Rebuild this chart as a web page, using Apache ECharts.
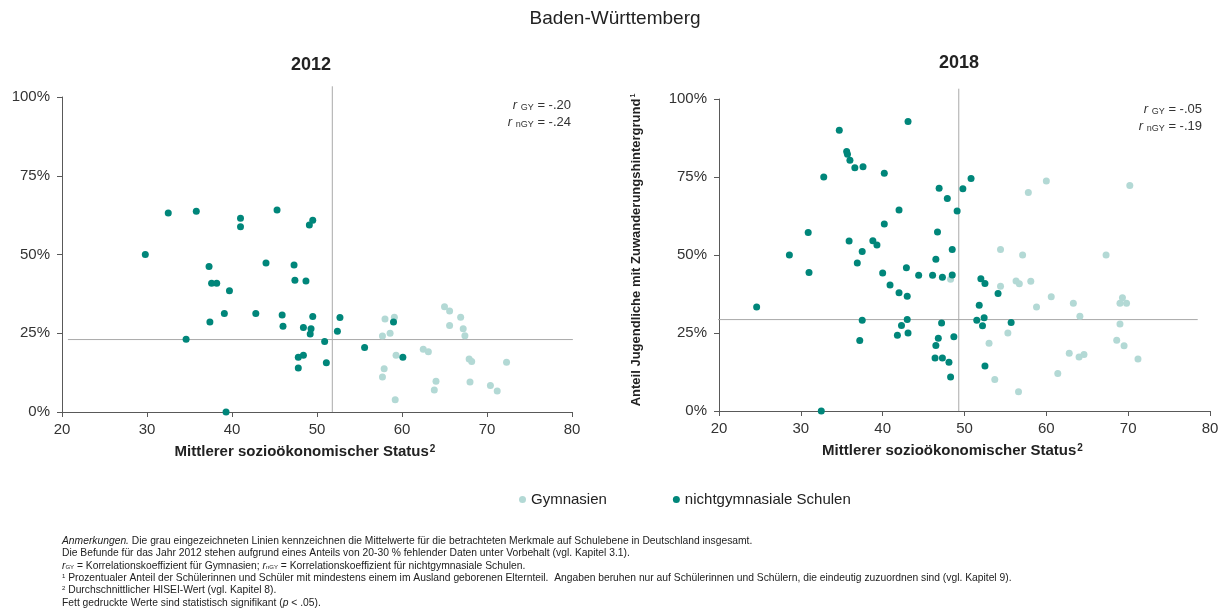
<!DOCTYPE html>
<html>
<head>
<meta charset="utf-8">
<title>Baden-Württemberg</title>
<script src="https://cdn.jsdelivr.net/npm/echarts@6/dist/echarts.min.js"></script>
<style>
  html, body { margin: 0; padding: 0; background: #fff; }
  #chart { width: 1230px; height: 610px; }
</style>
</head>
<body>
<div id="chart"></div>
<script>
// Werte je Schule: [Mittlerer sozioökonomischer Status, Anteil Zuwanderungshintergrund in %]
var gym2012 = [
  [65.0, 33.4], [65.6, 32.1], [66.9, 30.1], [58.0, 29.5], [59.1, 30.1], [65.6, 27.5],
  [67.2, 26.4], [58.6, 25.0], [67.4, 24.2], [57.7, 24.1], [59.3, 18.0], [62.5, 19.9],
  [63.1, 19.1], [67.9, 16.8], [68.2, 16.0], [72.3, 15.8], [57.9, 13.7], [57.7, 11.1],
  [64.0, 9.8], [63.8, 7.0], [68.0, 9.5], [70.4, 8.4], [71.2, 6.7], [59.2, 3.9]
];
var ngy2012 = [
  [29.8, 50.0], [32.5, 63.2], [35.8, 63.7], [41.0, 58.8], [41.0, 61.5], [45.3, 64.1],
  [37.3, 46.2], [37.6, 40.9], [38.2, 40.9], [39.7, 38.5], [44.0, 47.3], [47.3, 46.7],
  [47.4, 41.8], [39.1, 31.3], [42.8, 31.3], [45.9, 30.8], [46.0, 27.2], [37.4, 28.6],
  [34.6, 23.1], [39.3, 0.0], [47.8, 17.4], [47.8, 14.0], [49.1, 59.4], [49.5, 60.9],
  [48.7, 41.6], [49.5, 30.3], [52.7, 30.0], [48.4, 26.8], [49.3, 26.4], [49.2, 24.8],
  [52.4, 25.6], [50.9, 22.4], [55.6, 20.5], [48.4, 18.0], [51.1, 15.6], [59.0, 28.6],
  [60.1, 17.4]
];
var gym2018 = [
  [48.3, 42.2], [60.0, 73.7], [70.2, 72.3], [57.8, 70.0], [54.4, 51.8], [57.1, 50.0],
  [67.3, 50.0], [54.4, 40.0], [56.3, 41.7], [56.7, 40.8], [58.1, 41.6], [60.6, 36.6],
  [63.3, 34.5], [58.8, 33.3], [69.3, 36.3], [69.0, 34.5], [69.8, 34.5], [64.1, 30.4],
  [69.0, 27.9], [55.3, 25.0], [53.0, 21.7], [68.6, 22.7], [69.5, 20.9], [62.8, 18.5],
  [64.0, 17.3], [64.6, 18.1], [71.2, 16.7], [61.4, 12.0], [53.7, 10.1], [56.6, 6.2]
];
var ngy2018 = [
  [24.6, 33.3], [28.6, 50.0], [30.9, 57.2], [31.0, 44.4], [32.8, 75.0], [32.5, 0.0],
  [34.7, 90.0], [35.6, 83.2], [35.7, 82.3], [36.0, 80.4], [36.6, 78.0], [37.6, 78.3],
  [40.2, 76.2], [43.1, 92.8], [42.0, 64.4], [40.2, 59.9], [35.9, 54.5], [38.8, 54.6],
  [39.3, 53.2], [37.5, 51.1], [36.9, 47.4], [42.9, 45.9], [40.0, 44.2], [44.4, 43.5],
  [46.1, 43.5], [47.3, 42.9], [48.5, 43.6], [40.9, 40.4], [42.0, 37.9], [43.0, 36.8],
  [37.5, 29.1], [43.0, 29.3], [42.3, 27.4], [41.8, 24.3], [43.1, 25.0], [37.2, 22.6],
  [46.5, 48.6], [48.5, 51.8], [46.7, 57.4], [46.9, 71.4], [47.9, 68.1], [49.8, 71.2],
  [50.8, 74.5], [49.1, 64.1], [52.0, 42.4], [52.5, 40.9], [54.1, 37.7], [51.8, 33.9],
  [51.5, 29.1], [52.4, 29.9], [52.2, 27.3], [55.7, 28.4], [47.2, 28.2], [46.8, 23.3],
  [48.7, 23.8], [46.5, 21.0], [46.4, 17.0], [47.3, 17.0], [48.1, 15.6], [52.5, 14.4],
  [48.3, 10.9]
];
// Mittelwerte Deutschland (graue Linien) und Korrelationen
var mean2012 = { x: 51.8, y: 23.0 };
var mean2018 = { x: 49.3, y: 29.3 };
var corr2012 = ['-.20', '-.24'];
var corr2018 = ['-.05', '-.19'];
var yTicks = [0, 25, 50, 75, 100];

var dunkel = '#00867a';
var hell = '#b3d9d5';
var grau = '#a9a9a9';
var achse = '#595959';
var font = '"Liberation Sans", Arial, sans-serif';

var myChart = echarts.init(document.getElementById('chart'));

function xAchse(idx) {
  return {
    gridIndex: idx,
    type: 'value',
    min: 20,
    max: 80,
    interval: 10,
    axisLine: { show: true, onZero: false, lineStyle: { color: achse, width: 1 } },
    axisTick: { show: true, length: 5, lineStyle: { color: achse } },
    splitLine: { show: false },
    axisLabel: { fontSize: 15, color: '#333', margin: 10, fontFamily: font },
    name: 'Mittlerer sozioökonomischer Status{s|2}',
    nameLocation: 'middle',
    nameGap: 32,
    nameTextStyle: {
      fontSize: 15, fontWeight: 'bold', color: '#222', fontFamily: font,
      padding: [0, 24, 0, 0],
      rich: { s: { fontSize: 10, fontWeight: 'bold', color: '#222', verticalAlign: 'top', padding: [0, 0, 6, 1], fontFamily: font } }
    }
  };
}

function yAchse(idx, mitName) {
  var a = {
    gridIndex: idx,
    type: 'value',
    min: 0,
    max: 100,
    interval: 25,
    axisLine: { show: true, onZero: false, lineStyle: { color: achse, width: 1 } },
    axisTick: { show: true, length: 5, lineStyle: { color: achse } },
    splitLine: { show: false },
    axisLabel: {
      fontSize: 15, color: '#333', margin: 12, fontFamily: font,
      formatter: function (v) { return yTicks.indexOf(v) >= 0 ? v + '%' : ''; }
    }
  };
  if (mitName) {
    a.name = 'Anteil Jugendliche mit Zuwanderungshintergrund{s|1}';
    a.nameLocation = 'middle';
    a.nameRotate = 90;
    a.nameGap = 76;
    a.nameTextStyle = {
      fontSize: 13, fontWeight: 'bold', color: '#222', fontFamily: font,
      padding: [0, 0, 0, 10],
      rich: { s: { fontSize: 7, fontWeight: 'bold', color: '#222', verticalAlign: 'top', padding: [0, 0, 5, 1], fontFamily: font } }
    };
  }
  return a;
}

function punkte(name, daten, farbe, idx, z) {
  return {
    name: name,
    type: 'scatter',
    xAxisIndex: idx,
    yAxisIndex: idx,
    data: daten,
    symbol: 'circle',
    symbolSize: 7,
    itemStyle: { color: farbe, opacity: 1 },
    z: z
  };
}

function mittelLinie(daten, idx) {
  return {
    type: 'line',
    xAxisIndex: idx,
    yAxisIndex: idx,
    data: daten,
    symbol: 'none',
    clip: false,
    silent: true,
    lineStyle: { color: grau, width: 1 },
    z: 1
  };
}

function korrText(x, y, werte) {
  var rich = {
    i: { fontStyle: 'italic', fontSize: 13, fontFamily: font },
    sub: { fontSize: 9, fontFamily: font, verticalAlign: 'bottom', padding: [4, 0, 0, 0] }
  };
  return [
    { type: 'text', right: 1230 - x, top: y, style: {
      text: '{i|r} {sub|GY} = ' + werte[0], font: '13px ' + font, fill: '#333', rich: rich
    } },
    { type: 'text', right: 1230 - x, top: y + 17, style: {
      text: '{i|r} {sub|nGY} = ' + werte[1], font: '13px ' + font, fill: '#333', rich: rich
    } }
  ];
}

var notizRich = {
  i: { fontStyle: 'italic', fontSize: 10.3, fontFamily: font, fill: '#222' },
  sub: { fontSize: 6, fontFamily: font, verticalAlign: 'bottom' },
  sup: { fontSize: 6, fontFamily: font, verticalAlign: 'top', padding: [0, 0, 4, 0] }
};
var notizen = [
  '{i|Anmerkungen.} Die grau eingezeichneten Linien kennzeichnen die Mittelwerte für die betrachteten Merkmale auf Schulebene in Deutschland insgesamt.',
  'Die Befunde für das Jahr 2012 stehen aufgrund eines Anteils von 20-30 % fehlender Daten unter Vorbehalt (vgl. Kapitel 3.1).',
  '{i|r}{sub|GY} = Korrelationskoeffizient für Gymnasien; {i|r}{sub|nGY} = Korrelationskoeffizient für nichtgymnasiale Schulen.',
  '{sup|1} Prozentualer Anteil der Schülerinnen und Schüler mit mindestens einem im Ausland geborenen Elternteil.  Angaben beruhen nur auf Schülerinnen und Schülern, die eindeutig zuzuordnen sind (vgl. Kapitel 9).',
  '{sup|2} Durchschnittlicher HISEI-Wert (vgl. Kapitel 8).',
  'Fett gedruckte Werte sind statistisch signifikant ({i|p} < .05).'
];

var grafik = [
  { type: 'text', left: 'center', top: 9, style: { text: 'Baden-Württemberg', font: '19px ' + font, fill: '#222' } },
  { type: 'text', x: 311, y: 65, style: { text: '2012', font: 'bold 18px ' + font, fill: '#222', align: 'center', verticalAlign: 'middle' } },
  { type: 'text', x: 959, y: 63, style: { text: '2018', font: 'bold 18px ' + font, fill: '#222', align: 'center', verticalAlign: 'middle' } }
].concat(korrText(571, 99, corr2012), korrText(1202, 103, corr2018));

notizen.forEach(function (t, i) {
  grafik.push({
    type: 'text', left: 62, top: 536 + i * 12.4,
    style: { text: t, font: '10.3px ' + font, fill: '#222', rich: notizRich }
  });
});

myChart.setOption({
  animation: false,
  textStyle: { fontFamily: font },
  legend: {
    data: ['Gymnasien', 'nichtgymnasiale Schulen'],
    left: 514,
    top: 487,
    icon: 'circle',
    itemWidth: 7,
    itemHeight: 7,
    itemGap: 66,
    textStyle: { fontSize: 15, color: '#222', fontFamily: font }
  },
  grid: [
    { left: 62, right: 658, top: 97, bottom: 198, containLabel: false },
    { left: 719, right: 20, top: 99, bottom: 199, containLabel: false }
  ],
  xAxis: [xAchse(0), xAchse(1)],
  yAxis: [yAchse(0, false), yAchse(1, true)],
  graphic: grafik,
  series: [
    mittelLinie([[20.7, mean2012.y], [80.1, mean2012.y]], 0),
    mittelLinie([[mean2012.x, 0], [mean2012.x, 103.4]], 0),
    mittelLinie([[18.5, mean2018.y], [78.5, mean2018.y]], 1),
    mittelLinie([[mean2018.x, 0], [mean2018.x, 103.3]], 1),
    punkte('Gymnasien', gym2012, hell, 0, 3),
    punkte('nichtgymnasiale Schulen', ngy2012, dunkel, 0, 4),
    punkte('Gymnasien', gym2018, hell, 1, 3),
    punkte('nichtgymnasiale Schulen', ngy2018, dunkel, 1, 4)
  ]
});
</script>
</body>
</html>
